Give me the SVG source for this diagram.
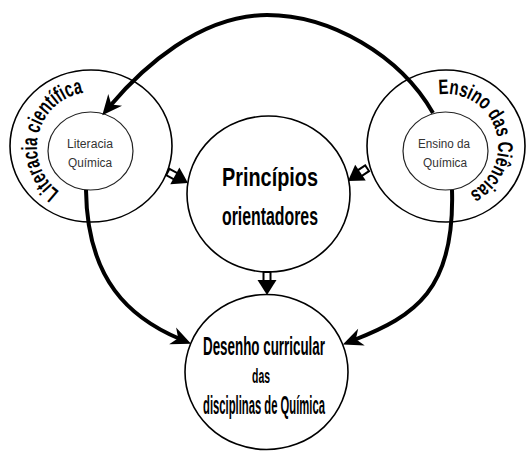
<svg xmlns="http://www.w3.org/2000/svg" xmlns:xlink="http://www.w3.org/1999/xlink" width="528" height="452" viewBox="0 0 528 452">
<style>
.c{fill:#fff;stroke:#000;stroke-width:1.6}
.ci{fill:#fff;stroke:#222;stroke-width:1.2}
.t{font-family:"Liberation Sans",Arial,sans-serif;fill:#000}
.b{font-weight:bold}
.s{font-size:12px;fill:#333;text-anchor:middle}
.m{font-size:25px;text-anchor:middle;font-weight:bold}
.conn{fill:none;stroke:#000;stroke-width:4}
</style>
<defs>
<marker id="ah" markerUnits="userSpaceOnUse" viewBox="-22 -11 24 22" markerWidth="24" markerHeight="22" refX="-12" refY="0" orient="auto" overflow="visible">
<path d="M0,0 L-20,-9 L-14,0 L-20,9 Z" fill="#000"/>
</marker>
<g id="blk">
<rect x="-23" y="-3.5" width="10" height="7" fill="#fff" stroke="#000" stroke-width="2"/>
<path d="M0,0 L-15,-9.5 L-15,9.5 Z" fill="#000"/>
</g>
<path id="arcL" d="M59.6,191.6 A55,55 0 1 1 133.1,110.6"/>
<path id="arcR" d="M438.8,94.5 A52,52 0 1 1 437,197.2"/>
</defs>

<g id="node-literacia-cientifica">
<ellipse class="c" cx="91" cy="146" rx="81" ry="76"/>
<text class="t" font-size="22" font-weight="bold"><textPath xlink:href="#arcL" textLength="129" lengthAdjust="spacingAndGlyphs">Literacia científica</textPath></text>
</g>
<g id="node-literacia-quimica">
<ellipse class="ci" cx="90.5" cy="151" rx="42.5" ry="39"/>
<text class="t s" x="90" y="148" textLength="46" lengthAdjust="spacingAndGlyphs">Literacia</text>
<text class="t s" x="90" y="167" textLength="44" lengthAdjust="spacingAndGlyphs">Química</text>
</g>

<g id="node-ensino-ciencias">
<ellipse class="c" cx="446" cy="146" rx="79" ry="76"/>
<text class="t" font-size="21" font-weight="bold"><textPath xlink:href="#arcR" textLength="146" lengthAdjust="spacingAndGlyphs">Ensino das Ciências</textPath></text>
</g>
<g id="node-ensino-quimica">
<ellipse class="ci" cx="445.5" cy="151" rx="42.5" ry="39"/>
<text class="t s" x="444" y="148" textLength="52" lengthAdjust="spacingAndGlyphs">Ensino da</text>
<text class="t s" x="445" y="167" textLength="44" lengthAdjust="spacingAndGlyphs">Química</text>
</g>

<g id="node-principios">
<ellipse class="c" cx="268.5" cy="194" rx="81.5" ry="78"/>
<text class="t m" x="270" y="186" textLength="96" lengthAdjust="spacingAndGlyphs">Princípios</text>
<text class="t m" x="270" y="225" textLength="96" lengthAdjust="spacingAndGlyphs">orientadores</text>
</g>

<g id="node-desenho">
<ellipse class="c" cx="266.5" cy="372" rx="81.5" ry="77.5"/>
<text class="t b" font-size="26" text-anchor="middle" x="264" y="355" textLength="122" lengthAdjust="spacingAndGlyphs">Desenho curricular</text>
<text class="t b" font-size="21" text-anchor="middle" x="261" y="383" textLength="18" lengthAdjust="spacingAndGlyphs">das</text>
<text class="t b" font-size="25" text-anchor="middle" x="264" y="414" textLength="122" lengthAdjust="spacingAndGlyphs">disciplinas de Química</text>
</g>

<g id="connectors">
<path class="conn" d="M433,113 C400,55 330,15 267,15 C200,15 142,68 110,106" marker-end="url(#ah)"/>
<path class="conn" d="M86,190 C87,280 130,318 180,339" marker-end="url(#ah)"/>
<path class="conn" d="M452,190 C455,290 415,316 354,340" marker-end="url(#ah)"/>
<use xlink:href="#blk" transform="translate(188,183) rotate(28.6)"/>
<use xlink:href="#blk" transform="translate(348,181) rotate(146.3)"/>
<use xlink:href="#blk" transform="translate(267,295) rotate(90)"/>
</g>
</svg>
